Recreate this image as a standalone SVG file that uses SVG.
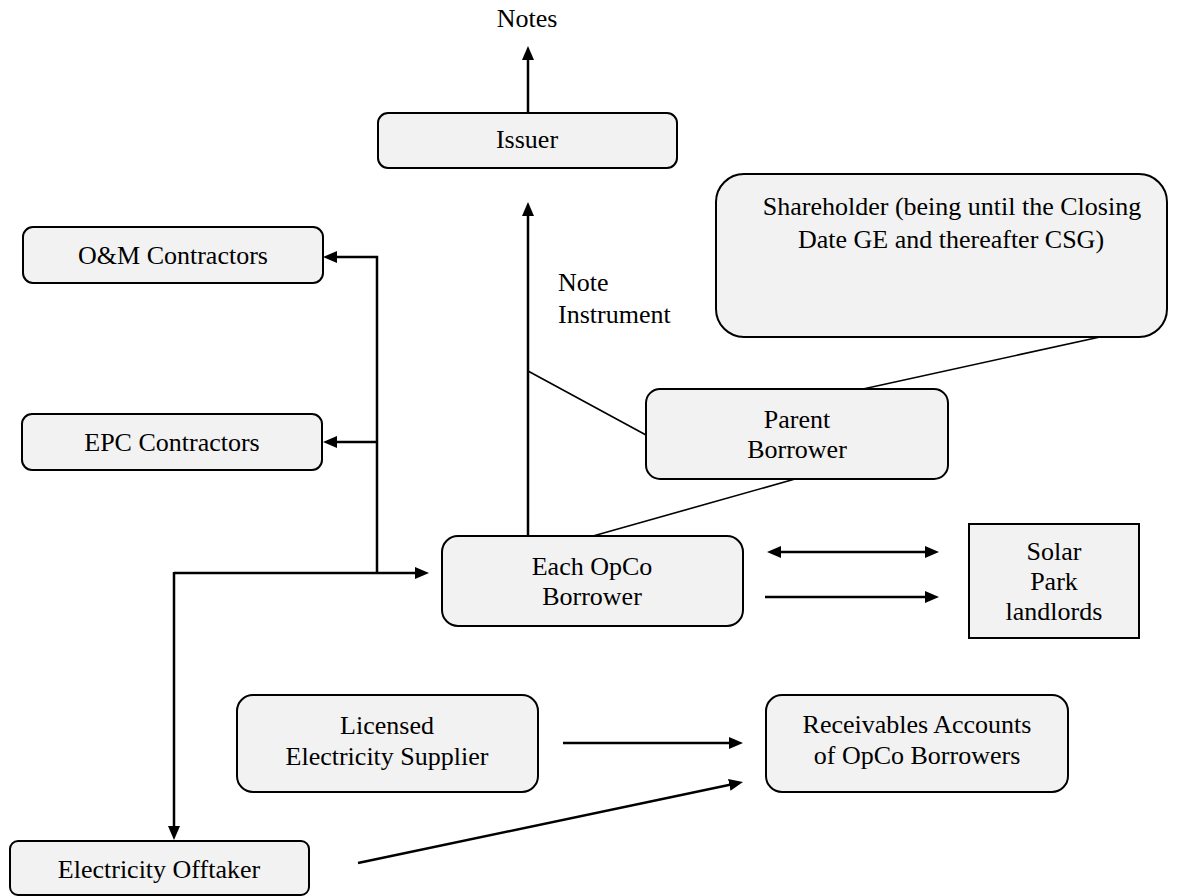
<svg xmlns="http://www.w3.org/2000/svg" width="1188" height="896" viewBox="0 0 1188 896">
<style>
.box{fill:#f2f2f2;stroke:#000;stroke-width:2}
.t{font-family:"Liberation Serif","Times New Roman",serif;font-size:26px;fill:#000;text-anchor:middle}
.tl{font-family:"Liberation Serif","Times New Roman",serif;font-size:26px;fill:#000}
.arr{fill:none;stroke:#000;stroke-width:2.5}
.thin{fill:none;stroke:#000;stroke-width:1.6}
</style>
<defs>
<marker id="ah" viewBox="0 0 14 12" refX="8" refY="6" markerWidth="14" markerHeight="12" markerUnits="userSpaceOnUse" orient="auto-start-reverse">
<path d="M0,0 L14,6 L0,12 z" fill="#000"/>
</marker>
</defs>
<rect width="1188" height="896" fill="#fff"/>
<g id="connectors">
<path class="arr" d="M528,113 L528,52" marker-end="url(#ah)"/>
<path class="arr" d="M528,536 L528,208" marker-end="url(#ah)"/>
<path class="thin" d="M528,371 L646,435"/>
<path class="thin" d="M593,536 L795,479"/>
<path class="thin" d="M863,389 L1100,337"/>
<path class="arr" d="M377,573 L377,257 L329,257" marker-end="url(#ah)"/>
<path class="arr" d="M377,442 L329,442" marker-end="url(#ah)"/>
<path class="arr" d="M174,573 L423,573" marker-end="url(#ah)"/>
<path class="arr" d="M174,572 L174,834" marker-end="url(#ah)"/>
<path class="arr" d="M773,552 L933,552" marker-start="url(#ah)" marker-end="url(#ah)"/>
<path class="arr" d="M765,597 L933,597" marker-end="url(#ah)"/>
<path class="arr" d="M563,743 L737,743" marker-end="url(#ah)"/>
<path class="arr" d="M358,863 L737.1,783.2" marker-end="url(#ah)"/>
</g>
<text class="t" x="527" y="27">Notes</text>
<g id="issuer"><rect class="box" x="378" y="113" width="299" height="55" rx="10"/><text class="t" x="527" y="148">Issuer</text></g>
<g id="om"><rect class="box" x="23" y="227" width="300" height="56" rx="10"/><text class="t" x="173" y="264">O&amp;M Contractors</text></g>
<g id="epc"><rect class="box" x="22" y="414" width="300" height="56" rx="10"/><text class="t" x="172" y="451">EPC Contractors</text></g>
<g id="shareholder"><rect class="box" x="716" y="174" width="451" height="163" rx="28"/><text class="t" x="952" y="215">Shareholder (being until the Closing</text><text class="t" x="951" y="248">Date GE and thereafter CSG)</text></g>
<g id="noteinstrument"><text class="tl" x="558" y="291">Note</text><text class="tl" x="558" y="323">Instrument</text></g>
<g id="parent"><rect class="box" x="646" y="389" width="302" height="90" rx="14"/><text class="t" x="797" y="428">Parent</text><text class="t" x="797" y="458">Borrower</text></g>
<g id="opco"><rect class="box" x="442" y="536" width="301" height="90" rx="16"/><text class="t" x="592" y="575">Each OpCo</text><text class="t" x="592" y="605">Borrower</text></g>
<g id="solar"><rect class="box" x="969" y="524" width="170" height="114"/><text class="t" x="1054" y="560">Solar</text><text class="t" x="1054" y="590">Park</text><text class="t" x="1054" y="620">landlords</text></g>
<g id="licensed"><rect class="box" x="237" y="695" width="301" height="97" rx="16"/><text class="t" x="387" y="734">Licensed</text><text class="t" x="387" y="765">Electricity Supplier</text></g>
<g id="receivables"><rect class="box" x="766" y="695" width="302" height="97" rx="16"/><text class="t" x="917" y="733">Receivables Accounts</text><text class="t" x="917" y="764">of OpCo Borrowers</text></g>
<g id="offtaker"><rect class="box" x="10" y="841" width="299" height="54" rx="8"/><text class="t" x="159" y="878">Electricity Offtaker</text></g>
</svg>
